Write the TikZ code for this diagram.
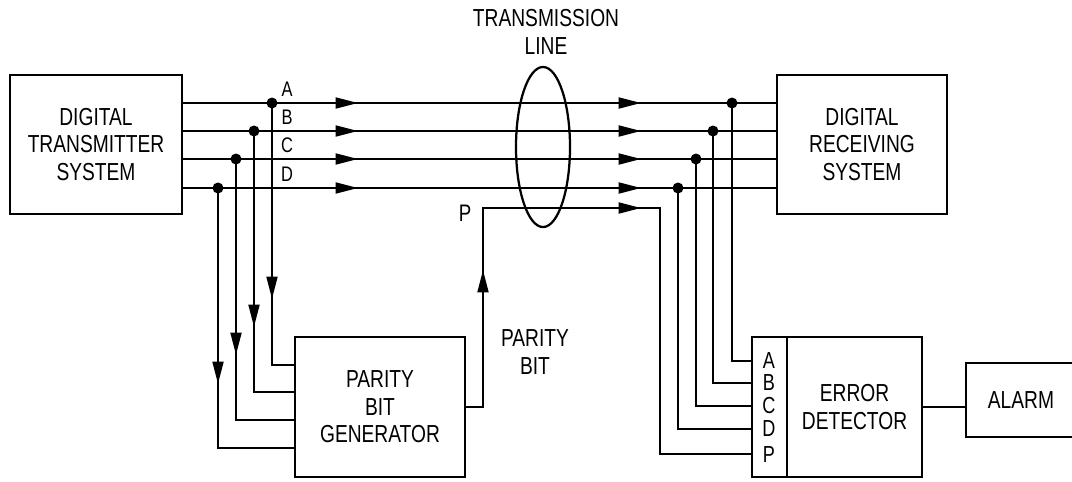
\documentclass[tikz,border=0pt]{standalone}
\usepackage{fontspec}
\setmainfont{Liberation Sans}[FakeStretch=0.78]
\usepackage{tikz}
\usetikzlibrary{arrows.meta, positioning, shapes.geometric, decorations.markings}

\begin{document}
\begin{tikzpicture}[
  x=0.025cm, y=-0.025cm,
  font=\fontsize{17.5}{19.5}\selectfont,
  block/.style={draw, line width=1.6pt, align=center, inner sep=0pt, outer sep=0pt},
  sig/.style={line width=1.7pt},
  lab/.style={font=\fontsize{15}{17}\selectfont, inner sep=0pt},
  letter/.style={font=\fontsize{16.5}{18}\selectfont, inner sep=0pt},
  arrowat/.style={postaction=decorate, decoration={markings,
      mark=at position #1 with {\arrow{Triangle[length=0.56cm, width=0.27cm]}}}},
  arrowsat/.style 2 args={postaction=decorate, decoration={markings,
      mark=at position #1 with {\arrow{Triangle[length=0.56cm, width=0.27cm]}},
      mark=at position #2 with {\arrow{Triangle[length=0.56cm, width=0.27cm]}}}}
]
\path[fill=white] (0,0) rectangle (1072,481);
\useasboundingbox (0,0) rectangle (1072,481);

% blocks
\node[block, minimum width=4.3cm, minimum height=3.475cm] (tx) at (96,144.5) {DIGITAL\\TRANSMITTER\\SYSTEM};
\node[block, minimum width=4.25cm, minimum height=3.475cm] (rx) at (862,144.5) {DIGITAL\\RECEIVING\\SYSTEM};
\node[block, minimum width=4.25cm, minimum height=3.5cm] (gen) at (380,407) {PARITY\\BIT\\GENERATOR};
\node[block, minimum width=0.875cm, minimum height=3.5cm] (cols) at (769.5,407) {};
\node[block, minimum width=3.375cm, minimum height=3.5cm, right=0pt of cols] (errdet) {ERROR\\DETECTOR};
\node[block, minimum width=2.75cm, minimum height=1.85cm] (alarm) at (1021,400) {ALARM};
\node[draw, ellipse, line width=1.6pt, minimum width=1.35cm, minimum height=4cm, inner sep=0pt] (tline) at (543,147) {};
\node[align=center] (tltext) at (546,32) {TRANSMISSION\\LINE};
\node[align=center] (pbtext) at (535,352) {PARITY\\BIT};

% data lines A-D
\foreach \s/\y/\tx/\rx/\gy/\ey in {A/103/272/732/365/361, B/131/254/713/392/383,
    C/159/236/696/420/406, D/188/218/678/448/429} {
  \coordinate (t\s) at (\tx,\y);
  \coordinate (r\s) at (\rx,\y);
  \path (0,\gy) coordinate (gy\s) (0,\ey) coordinate (ey\s);
  \draw[sig, arrowsat={4.4cm}{11.475cm}] (tx.east |- t\s) -- (rx.west |- t\s);
  \draw[sig, arrowat=4.9cm] (t\s) |- (gen.west |- gy\s);
  \draw[sig] (r\s) |- (cols.west |- ey\s);
  \fill (t\s) circle [radius=5.5];
  \fill (r\s) circle [radius=5.5];
  \node[lab] (lab\s) at (287,{\y-14}) {\s};
  \node[letter] (in\s) at (769,\ey) {\s};
}

% parity line
\coordinate (pup) at (483,208);
\coordinate (pdn) at (660,208);
\path (0,454) coordinate (eyP);
\draw[sig, arrowsat={3.875cm}{9.375cm}] (gen.east) -| (pup) -- (pdn) |- (cols.west |- eyP);
\node[lab, font=\fontsize{17}{19}\selectfont] (labP) at (465,213) {P};
\node[letter] (inP) at (769,455) {P};

\draw[sig] (errdet.east) -- (alarm.west |- errdet.east);
\end{tikzpicture}
\end{document}
